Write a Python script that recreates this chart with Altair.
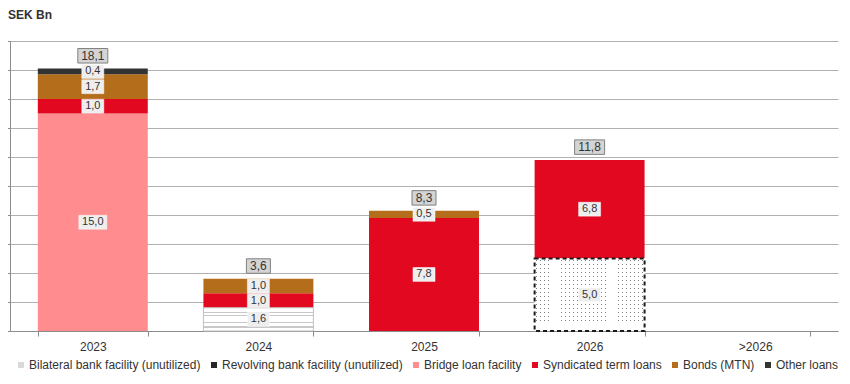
import altair as alt
import pandas as pd

years = ["2023", "2024", "2025", "2026", ">2026"]
series = ["Bilateral bank facility (unutilized)", "Revolving bank facility (unutilized)",
          "Bridge loan facility", "Syndicated term loans", "Bonds (MTN)", "Other loans"]
bilateral = [0.0, 1.6, 0.0, 0.0, 0.0]
revolving = [0.0, 0.0, 0.0, 5.0, 0.0]
bridge = [15.0, 0.0, 0.0, 0.0, 0.0]
syndicated = [1.0, 1.0, 7.8, 6.8, 0.0]
bonds = [1.7, 1.0, 0.5, 0.0, 0.0]
other = [0.4, 0.0, 0.0, 0.0, 0.0]
colors = ["#d9d9d9", "#262626", "#ff8c8f", "#e2081f", "#b46d1b", "#333333"]

rows = []
for k, (name, vals) in enumerate(zip(series, [bilateral, revolving, bridge, syndicated, bonds, other])):
    for yr, v in zip(years, vals):
        if v > 0:
            rows.append({"year": yr, "series": name, "k": k, "value": v})
df = pd.DataFrame(rows)

FONT = "Liberation Sans"
TXT = "#333333"

xenc = alt.X("year:N", scale=alt.Scale(domain=years, paddingInner=0.336, paddingOuter=0.168),
             axis=alt.Axis(title=None, labelAngle=0, tickBand="extent", grid=False,
                           tickSize=5, labelPadding=5))
yscale = alt.Scale(domain=[0, 20], nice=False)
yaxis = alt.Axis(title=None, labels=False, values=list(range(0, 21, 2)), tickSize=3, grid=True)

base = alt.Chart(df).transform_stack(
    stack="value", groupby=["year"], as_=["y0", "y1"], sort=[alt.SortField("k", order="ascending")]
).transform_calculate(
    mid="(datum.y0 + datum.y1) / 2",
    label="replace(format(datum.value, '.1f'), '.', ',')",
).transform_calculate(
    n="length(datum.label)", lo="datum.mid - 0.48", hi="datum.mid + 0.48"
)

bars = base.transform_filter("datum.k >= 2").mark_bar().encode(
    x=xenc,
    y=alt.Y("y0:Q", scale=yscale, axis=yaxis),
    y2="y1:Q",
    color=alt.Color("series:N", scale=alt.Scale(domain=series, range=colors),
                    legend=alt.Legend(title=None, orient="none", legendX=5, legendY=318,
                                      direction="horizontal", columns=6, symbolType="square",
                                      symbolSize=36, symbolStrokeWidth=0, labelFontSize=12,
                                      labelFont=FONT, labelColor=TXT, columnPadding=7,
                                      labelOffset=2, labelLimit=0, padding=0)),
)

# horizontal stripe pattern for bilateral facility
bil_grad = {"gradient": "linear", "x1": 0, "y1": 0, "x2": 0, "y2": 1, "stops": [
    {"offset": 0.0, "color": "#ffffff"}, {"offset": 0.17, "color": "#ffffff"},
    {"offset": 0.17, "color": "#c8c8c8"}, {"offset": 0.22, "color": "#c8c8c8"},
    {"offset": 0.22, "color": "#ffffff"}, {"offset": 0.29, "color": "#ffffff"},
    {"offset": 0.29, "color": "#c8c8c8"}, {"offset": 0.34, "color": "#c8c8c8"},
    {"offset": 0.34, "color": "#ffffff"}, {"offset": 0.62, "color": "#ffffff"},
    {"offset": 0.62, "color": "#c8c8c8"}, {"offset": 0.67, "color": "#c8c8c8"},
    {"offset": 0.67, "color": "#ffffff"}, {"offset": 0.80, "color": "#ffffff"},
    {"offset": 0.80, "color": "#c8c8c8"}, {"offset": 0.85, "color": "#c8c8c8"},
    {"offset": 0.85, "color": "#ffffff"}, {"offset": 1.0, "color": "#ffffff"},
]}

bil = base.transform_filter("datum.k == 0").mark_bar(fill=bil_grad, stroke="#c0c0c0", strokeWidth=1).encode(
    x=xenc, y=alt.Y("y0:Q", scale=yscale, axis=yaxis), y2="y1:Q")

# dotted pattern for revolving facility: vertical lines masked by horizontal white bands
N, M = 27, 18
vstops = [{"offset": 0.0, "color": "#ffffff"}]
for i in range(N):
    c = (i + 0.5) / N
    vstops += [{"offset": c - 0.004, "color": "#ffffff"}, {"offset": c - 0.004, "color": "#808080"},
               {"offset": c + 0.004, "color": "#808080"}, {"offset": c + 0.004, "color": "#ffffff"}]
vstops.append({"offset": 1.0, "color": "#ffffff"})
hstops = [{"offset": 0.0, "color": "#ffffff"}]
for j in range(M):
    c = (j + 0.5) / M
    hstops += [{"offset": c - 0.006, "color": "#ffffff"}, {"offset": c - 0.006, "color": "rgba(255,255,255,0)"},
               {"offset": c + 0.006, "color": "rgba(255,255,255,0)"}, {"offset": c + 0.006, "color": "#ffffff"}]
hstops.append({"offset": 1.0, "color": "#ffffff"})
vgrad = {"gradient": "linear", "x1": 0, "y1": 0, "x2": 1, "y2": 0, "stops": vstops}
hgrad = {"gradient": "linear", "x1": 0, "y1": 0, "x2": 0, "y2": 1, "stops": hstops}

rev_a = base.transform_filter("datum.k == 1").mark_bar(fill=vgrad).encode(
    x=xenc, y=alt.Y("y0:Q", scale=yscale, axis=yaxis), y2="y1:Q")
rev_b = base.transform_filter("datum.k == 1").mark_bar(
    fill=hgrad, stroke="#1a1a1a", strokeWidth=2, strokeDash=[4, 3]).encode(
    x=xenc, y=alt.Y("y0:Q", scale=yscale, axis=yaxis), y2="y1:Q")

# segment labels
box3 = base.transform_filter("datum.n == 3").mark_bar(width=22, fill="#eeeeee", stroke="#ffffff", strokeWidth=0.5).encode(
    x=xenc, y=alt.Y("lo:Q", scale=yscale, axis=yaxis), y2="hi:Q")
box4 = base.transform_filter("datum.n == 4").mark_bar(width=28, fill="#eeeeee", stroke="#ffffff", strokeWidth=0.5).encode(
    x=xenc, y=alt.Y("lo:Q", scale=yscale, axis=yaxis), y2="hi:Q")
seg_txt = base.mark_text(font=FONT, fontSize=11, color=TXT, baseline="middle").encode(
    x=xenc, y=alt.Y("mid:Q", scale=yscale, axis=yaxis), text="label:N")

# totals
tot = alt.Chart(df).transform_aggregate(total="sum(value)", groupby=["year"]).transform_calculate(
    label="replace(format(datum.total, '.1f'), '.', ',')", mid="datum.total + 0.88"
).transform_calculate(n="length(datum.label)", lo="datum.mid - 0.5", hi="datum.mid + 0.5")
tbox3 = tot.transform_filter("datum.n == 3").mark_bar(width=24, fill="#d4d4d4", stroke="#808080", strokeWidth=1).encode(
    x=xenc, y=alt.Y("lo:Q", scale=yscale, axis=yaxis), y2="hi:Q")
tbox4 = tot.transform_filter("datum.n == 4").mark_bar(width=30, fill="#d4d4d4", stroke="#808080", strokeWidth=1).encode(
    x=xenc, y=alt.Y("lo:Q", scale=yscale, axis=yaxis), y2="hi:Q")
tot_txt = tot.mark_text(font=FONT, fontSize=12, color=TXT, baseline="middle").encode(
    x=xenc, y=alt.Y("mid:Q", scale=yscale, axis=yaxis), text="label:N")

chart = alt.layer(bars, bil, rev_a, rev_b, box3, box4, seg_txt, tbox3, tbox4, tot_txt).properties(
    width=828, height=290,
    autosize=alt.AutoSizeParams(type="none"),
    padding={"left": 2, "top": 33, "right": 4, "bottom": 41},
    title=alt.Title("SEK Bn", anchor="start", frame="group", fontSize=12, fontWeight="bold",
                    font=FONT, color=TXT, offset=19, dx=-2),
).configure_view(stroke=None).configure_axis(
    domainColor="#8c8c8c", tickColor="#8c8c8c", gridColor="#b0b0b0",
    labelFont=FONT, labelFontSize=12, labelColor=TXT,
)

chart.save("out.html", embed_options={"renderer": "svg", "actions": False})
